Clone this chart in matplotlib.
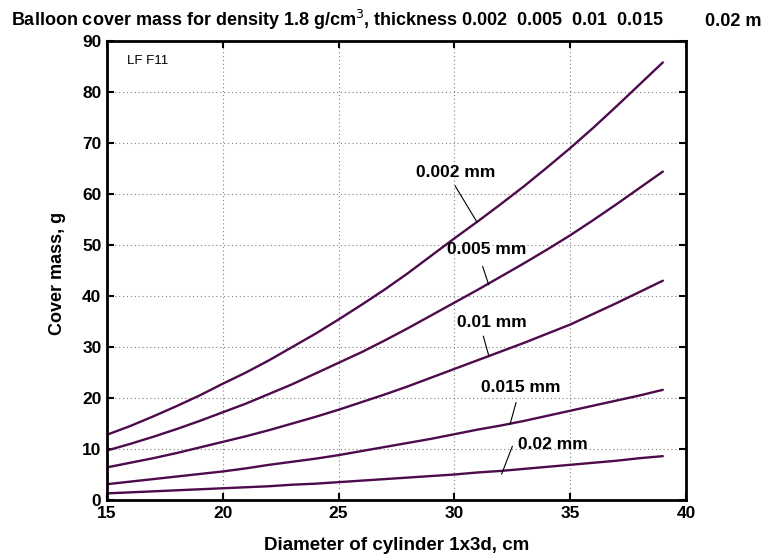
import matplotlib
matplotlib.use("Agg")
import matplotlib.pyplot as plt

plt.rcParams['font.family'] = ['Liberation Sans', 'DejaVu Sans']

diameter = [15, 16, 17, 18, 19, 20, 21, 22, 23, 24, 25, 26, 27,
            28, 29, 30, 31, 32, 33, 34, 35, 36, 37, 38, 39]
mass_0002 = [12.8, 14.5, 16.4, 18.4, 20.5, 22.8, 25.0, 27.4, 30.0, 32.6, 35.4, 38.3, 41.3,
             44.5, 47.9, 51.3, 54.6, 58.0, 61.5, 65.2, 69.0, 73.0, 77.2, 81.5, 85.8]
mass_0005 = [9.7, 11.0, 12.4, 13.9, 15.5, 17.2, 18.9, 20.8, 22.7, 24.8, 26.9, 29.0, 31.3,
             33.7, 36.2, 38.7, 41.2, 43.8, 46.4, 49.1, 51.9, 54.9, 58.0, 61.2, 64.4]
mass_001 = [6.4, 7.3, 8.2, 9.2, 10.3, 11.4, 12.5, 13.7, 15.0, 16.3, 17.7, 19.2, 20.7,
            22.3, 24.0, 25.7, 27.4, 29.1, 30.8, 32.6, 34.4, 36.5, 38.6, 40.8, 43.0]
mass_0015 = [3.1, 3.6, 4.1, 4.6, 5.1, 5.6, 6.2, 6.9, 7.5, 8.1, 8.8, 9.6, 10.4,
             11.2, 12.0, 12.9, 13.8, 14.6, 15.5, 16.5, 17.5, 18.5, 19.5, 20.5, 21.6]
mass_002 = [1.3, 1.5, 1.7, 1.9, 2.1, 2.3, 2.5, 2.7, 3.0, 3.2, 3.5, 3.8, 4.1,
            4.4, 4.7, 5.0, 5.4, 5.7, 6.1, 6.5, 6.9, 7.3, 7.7, 8.2, 8.6]

labels = ["0.002 mm", "0.005 mm", "0.01 mm", "0.015 mm", "0.02 mm"]
label_xy = [(30.07, 64.2), (31.4, 49.2), (31.6, 34.9), (32.86, 22.1), (34.26, 10.8)]
pointer_start = [(30.03, 61.6), (31.22, 45.8), (31.25, 32.1), (32.66, 19.1), (32.5, 10.5)]
pointer_end = [(30.96, 54.6), (31.48, 42.2), (31.49, 28.2), (32.4, 14.8), (32.04, 5.1)]

xticks = [15, 20, 25, 30, 35, 40]
yticks = [0, 10, 20, 30, 40, 50, 60, 70, 80, 90]

W, H = 761, 559
fig = plt.figure(figsize=(W / 100, H / 100), dpi=100)
ax = fig.add_axes([107 / W, 1 - 500 / H, (686 - 107) / W, (500 - 41) / H])

color = '#4d0a4d'
for series in [mass_0002, mass_0005, mass_001, mass_0015, mass_002]:
    ax.plot(diameter, series, color=color, lw=1.7, solid_capstyle='round',
            solid_joinstyle='round')

for lab, txy, p0, p1 in zip(labels, label_xy, pointer_start, pointer_end):
    ax.text(txy[0], txy[1], lab, ha='center', va='center', fontsize=12.5,
            fontweight='bold', color='black')
    ax.plot([p0[0], p1[0]], [p0[1], p1[1]], color='black', lw=0.8)

ax.text(15.85, 86.0, "LF F11", fontsize=9.5, ha='left', va='center')

ax.set_xlim(15, 40)
ax.set_ylim(0, 90)
ax.set_xticks(xticks)
ax.set_yticks(yticks)
ax.grid(True, color='#808080', linestyle=(0, (1, 2.5)), lw=0.8)
ax.tick_params(direction='in', length=5, width=1.5, top=True, right=True,
               labelsize=12.5, pad=4)
for lab in ax.get_xticklabels() + ax.get_yticklabels():
    lab.set_fontweight('bold')
for sp in ax.spines.values():
    sp.set_linewidth(2)

ax.set_xlabel("Diameter of cylinder 1x3d, cm", fontsize=13.5, fontweight='bold')
ax.xaxis.set_label_coords((397 - 107) / (686 - 107), -(550 - 500) / (500 - 41))
ax.xaxis.label.set_va('baseline')
ax.set_ylabel("Cover mass, g", fontsize=13, fontweight='bold')
ax.yaxis.set_label_coords(-(107 - 58) / (686 - 107), (500 - 273) / (500 - 41))
ax.yaxis.label.set_va('center')

fig.text(11 / W, 1 - 26 / H,
         "Balloon cover mass for density 1.8 g/cm$^3$, thickness 0.002  0.005  0.01  0.015",
         fontsize=13, fontweight='bold', ha='left', va='baseline')
fig.text(705 / W, 1 - 26 / H, "0.02 mm", fontsize=13, fontweight='bold',
         ha='left', va='baseline')

fig.savefig("out.png", dpi=100)
